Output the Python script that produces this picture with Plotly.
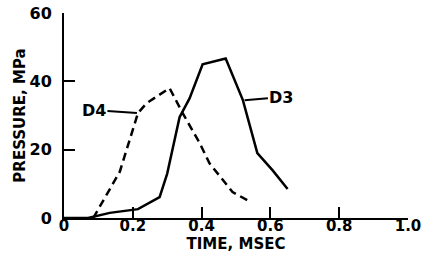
import plotly.graph_objects as go

# D3 (solid) pressure trace
d3_time = [0.0, 0.07, 0.133, 0.215, 0.278, 0.30, 0.336, 0.365, 0.403, 0.426, 0.47, 0.52, 0.562, 0.606, 0.65]
d3_pressure = [0.0, 0.0, 1.5, 2.6, 6.1, 13.0, 29.5, 35.0, 45.0, 45.6, 46.7, 34.5, 19.0, 14.0, 8.5]

# D4 (dashed) pressure trace
d4_time = [0.085, 0.162, 0.215, 0.24, 0.307, 0.345, 0.394, 0.423, 0.49, 0.542]
d4_pressure = [0.0, 13.5, 30.7, 33.6, 38.0, 30.7, 22.0, 16.0, 7.6, 4.7]

x_ticks = [0, 0.2, 0.4, 0.6, 0.8, 1.0]
x_tick_labels = ["0", "0.2", "0.4", "0.6", "0.8", "1.0"]
y_ticks = [0, 20, 40, 60]
y_tick_labels = ["0", "20", "40", "60"]

FONT = "DejaVu Sans"

fig = go.Figure()
fig.add_trace(go.Scatter(x=d3_time, y=d3_pressure, mode="lines",
                         line=dict(color="black", width=2.5), showlegend=False,
                         hoverinfo="skip"))
fig.add_trace(go.Scatter(x=d4_time, y=d4_pressure, mode="lines",
                         line=dict(color="black", width=2.5, dash="8px,5px"), showlegend=False,
                         hoverinfo="skip"))

fig.add_annotation(x=0.212, y=30.7, ax=0.087, ay=31.6, axref="x", ayref="y",
                   text="D4", showarrow=True, arrowhead=0, arrowwidth=2, arrowcolor="black",
                   font=dict(family=FONT, size=16, color="black", weight="bold"))
fig.add_annotation(x=0.525, y=34.5, ax=0.632, ay=35.4, axref="x", ayref="y",
                   text="D3", showarrow=True, arrowhead=0, arrowwidth=2, arrowcolor="black",
                   font=dict(family=FONT, size=16, color="black", weight="bold"))

fig.update_layout(
    width=422, height=266,
    margin=dict(l=64, r=14, t=13, b=48),
    paper_bgcolor="white", plot_bgcolor="white",
    font=dict(family=FONT, color="black"),
    hovermode=False,
)
fig.update_xaxes(
    range=[0, 1.0], tickvals=x_ticks, ticktext=x_tick_labels,
    ticks="inside", ticklen=11, tickwidth=2, tickcolor="black",
    showline=True, linewidth=2, linecolor="black",
    showgrid=False, zeroline=False, automargin=False,
    ticklabeloverflow="allow", ticklabelstandoff=-7,
    tickfont=dict(family=FONT, size=15, weight="bold"),
    title=dict(text="TIME, MSEC", font=dict(family=FONT, size=15, weight="bold"), standoff=0),
)
fig.update_yaxes(
    range=[0, 60], tickvals=y_ticks, ticktext=y_tick_labels,
    ticks="inside", ticklen=11, tickwidth=2, tickcolor="black",
    showline=True, linewidth=2, linecolor="black",
    showgrid=False, zeroline=False, automargin=False,
    ticklabeloverflow="allow", ticklabelstandoff=7,
    tickfont=dict(family=FONT, size=16, weight="bold"),
    title=dict(text="PRESSURE, MPa", font=dict(family=FONT, size=15, weight="bold"), standoff=0),
)

# remove the browser's default 8px body margin so the figure fills the window
fig.write_html("out.html", config={"displayModeBar": False},
               post_script="document.body.style.margin='0px';")
